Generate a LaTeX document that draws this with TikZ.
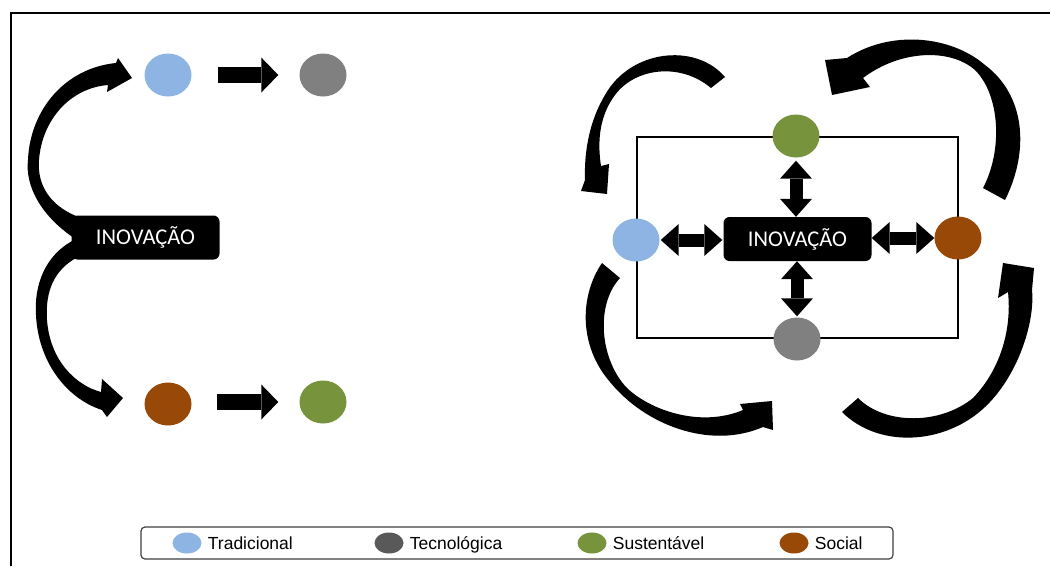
\documentclass[tikz,border=0pt]{standalone}
\usepackage{fontspec}
\setmainfont{Carlito}
\newfontfamily\legfont{Liberation Sans}
\usetikzlibrary{arrows.meta,shapes.geometric}
\definecolor{cblue}{HTML}{8DB4E2}
\definecolor{cgray}{HTML}{808080}
\definecolor{cgreen}{HTML}{77933C}
\definecolor{cbrown}{HTML}{984807}
\definecolor{cdgray}{HTML}{595959}
\definecolor{cframe}{HTML}{404040}
\begin{document}
\begin{tikzpicture}[x=1pt,y=-1pt,
 dot/.style={ellipse,inner sep=0pt,minimum width=47pt,minimum height=43pt},
 inovbox/.style={fill=black,text=white,rounded corners=6pt,minimum width=148pt,minimum height=44pt,inner sep=0pt,text height=14.5pt,text depth=0pt,font=\fontsize{22.5}{27}\selectfont},
 blockarrow/.style={line width=16pt,-{Triangle[length=17pt,width=35pt,line width=0pt]}},
 dblarrow/.style={line width=13pt,{Triangle[length=18pt,width=32pt,line width=0pt]}-{Triangle[length=18pt,width=32pt,line width=0pt]}},
 curvedarrow/.style={fill=black},
 legdot/.style={ellipse,inner sep=0pt,minimum width=29pt,minimum height=21pt},
 legtext/.style={anchor=west,inner sep=0pt,text height=12.6pt,text depth=0pt,font=\legfont\fontsize{17.5}{20}\selectfont}
]
\useasboundingbox (0,0) rectangle (1050,566);
\fill[white] (0,0) rectangle (1050,566);
% frame
\draw[line width=1.5pt] (11,566) -- (11,13) -- (1050,13);

% ---------- left diagram ----------
\fill[curvedarrow] (74,238) .. controls (40,215) and (25,185) .. (28,160)
  .. controls (30,110) and (65,68) .. (116,63) -- (118,58) -- (132,78) -- (107,92) -- (108,85)
  .. controls (70,88) and (42,120) .. (39,160) .. controls (37,185) and (50,205) .. (76,216) -- cycle;
\fill[curvedarrow] (74,240) .. controls (45,255) and (34,285) .. (36,315)
  .. controls (38,360) and (65,398) .. (102,410) -- (107,417) -- (123,398) -- (102,379) -- (101,392)
  .. controls (75,385) and (50,360) .. (47,320) .. controls (45,290) and (55,270) .. (76,258) -- cycle;
\node[inovbox] (inov1) at (145.5,237.5) {INOVAÇÃO};

\node[dot,fill=cblue]  (blue1)  at (168,75)  {};
\node[dot,fill=cgray]  (gray1)  at (323,75)  {};
\node[dot,fill=cbrown] (brown1) at (168,404) {};
\node[dot,fill=cgreen] (green1) at (323,402) {};
\draw[blockarrow,shorten <=26pt,shorten >=21pt] (blue1.east) -- (gray1.west |- blue1.east);
\draw[blockarrow,shorten <=25pt,shorten >=21pt] (brown1.east |- green1.west) -- (green1.west);

% ---------- right diagram ----------
\draw[line width=2.3pt] (637,137) rectangle (958,338);

% curved arrows
\fill[curvedarrow] (725,77) .. controls (695,42) and (630,50) .. (605,95)
  .. controls (590,120) and (584,150) .. (585,180) -- (581,191) -- (607,194) -- (609,164) -- (601,166)
  .. controls (597,140) and (600,115) .. (615,95) .. controls (635,68) and (680,62) .. (711,88) -- cycle;
\fill[curvedarrow] (1005,200) .. controls (1030,150) and (1025,95) .. (985,65)
  .. controls (950,35) and (890,30) .. (847,58) -- (825,60) -- (832,95) -- (870,87) -- (863,78)
  .. controls (900,50) and (950,48) .. (975,70) .. controls (1000,95) and (1003,150) .. (983,188) -- cycle;
\fill[curvedarrow] (602,263) .. controls (580,295) and (578,345) .. (610,382)
  .. controls (645,425) and (710,450) .. (763,427) -- (773,430) -- (772,401) -- (740,404) -- (743,410)
  .. controls (700,428) and (650,410) .. (627,388) .. controls (600,360) and (595,305) .. (620,278) -- cycle;
\fill[curvedarrow] (842,412) .. controls (880,450) and (950,445) .. (990,402)
  .. controls (1020,370) and (1035,320) .. (1032,290) -- (1034,268) -- (1003,263) -- (998,298) -- (1008,292)
  .. controls (1012,330) and (1000,370) .. (973,398) .. controls (940,425) and (885,425) .. (858,398) -- cycle;

\node[inovbox] (inov2) at (797.5,239) {INOVAÇÃO};
\node[dot,fill=cgreen] (green2) at (796,136) {};
\node[dot,fill=cblue]  (blue2)  at (636,240) {};
\node[dot,fill=cbrown] (brown2) at (958,238) {};
\node[dot,fill=cgray]  (gray2)  at (797,339) {};

\draw[dblarrow,shorten <=3pt] (green2.south) -- (green2.south |- inov2.north);
\draw[dblarrow,shorten >=1pt] (gray2.north |- inov2.south) -- (gray2.north);
\draw[dblarrow,shorten <=1pt,shorten >=1pt] (blue2.east) -- (inov2.west |- blue2.east);
\draw[dblarrow] (inov2.east |- brown2.west) -- (brown2.west);

% ---------- legend ----------
\node[draw=cframe,rounded corners=4pt,line width=1.2pt,minimum width=752pt,minimum height=32pt,inner sep=0pt] (legend) at (517,543) {};
\node[legdot,fill=cblue]  (l1) at (187,543) {};
\node[legtext] (t1) at ([xshift=6pt]l1.east) {Tradicional};
\node[legdot,fill=cdgray] (l2) at (389,543) {};
\node[legtext] (t2) at ([xshift=6pt]l2.east) {Tecnológica};
\node[legdot,fill=cgreen] (l3) at (592,543) {};
\node[legtext] (t3) at ([xshift=6pt]l3.east) {Sustentável};
\node[legdot,fill=cbrown] (l4) at (794,543) {};
\node[legtext] (t4) at ([xshift=6pt]l4.east) {Social};
\end{tikzpicture}
\end{document}
